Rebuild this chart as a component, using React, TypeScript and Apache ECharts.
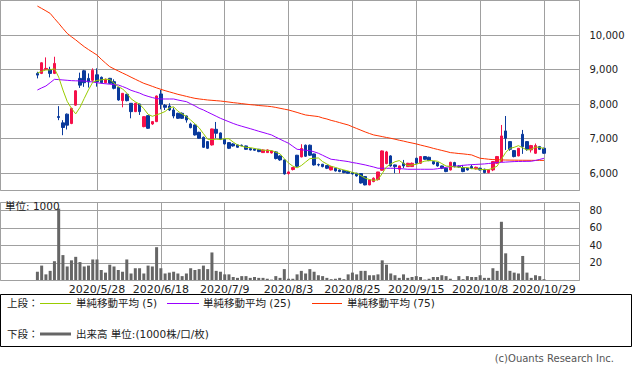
import React, { useEffect, useRef } from 'react';
import * as echarts from 'echarts';

const dates = [
  '2020/5/8','2020/5/11','2020/5/12','2020/5/13','2020/5/14','2020/5/15','2020/5/18','2020/5/19','2020/5/20','2020/5/21',
  '2020/5/22','2020/5/25','2020/5/26','2020/5/27','2020/5/28','2020/5/29','2020/6/1','2020/6/2','2020/6/3','2020/6/4',
  '2020/6/5','2020/6/8','2020/6/9','2020/6/10','2020/6/11','2020/6/12','2020/6/15','2020/6/16','2020/6/17','2020/6/18',
  '2020/6/19','2020/6/22','2020/6/23','2020/6/24','2020/6/25','2020/6/26','2020/6/29','2020/6/30','2020/7/1','2020/7/2',
  '2020/7/3','2020/7/6','2020/7/7','2020/7/8','2020/7/9','2020/7/10','2020/7/13','2020/7/14','2020/7/15','2020/7/16',
  '2020/7/17','2020/7/20','2020/7/21','2020/7/22','2020/7/27','2020/7/28','2020/7/29','2020/7/30','2020/7/31','2020/8/3',
  '2020/8/4','2020/8/5','2020/8/6','2020/8/7','2020/8/11','2020/8/12','2020/8/13','2020/8/14','2020/8/17','2020/8/18',
  '2020/8/19','2020/8/20','2020/8/21','2020/8/24','2020/8/25','2020/8/26','2020/8/27','2020/8/28','2020/8/31','2020/9/1',
  '2020/9/2','2020/9/3','2020/9/4','2020/9/7','2020/9/8','2020/9/9','2020/9/10','2020/9/11','2020/9/14','2020/9/15',
  '2020/9/16','2020/9/17','2020/9/18','2020/9/23','2020/9/24','2020/9/25','2020/9/28','2020/9/29','2020/9/30','2020/10/1',
  '2020/10/2','2020/10/5','2020/10/6','2020/10/7','2020/10/8','2020/10/9','2020/10/12','2020/10/13','2020/10/14','2020/10/15',
  '2020/10/16','2020/10/19','2020/10/20','2020/10/21','2020/10/22','2020/10/23','2020/10/26','2020/10/27','2020/10/28','2020/10/29',
];

// [open, close, low, high]
const ohlc = [
  [8890,8840,8745,8936],[8890,9197,8870,9210],[9005,9034,8990,9353],[9005,8890,8774,9081],[8890,9179,8870,9372],
  [7640,7614,7536,7942],[7458,7324,7101,7536],[7710,7391,7266,7730],[7440,7875,7420,7900],[7971,8385,7950,8400],
  [8745,8550,8470,8911],[8965,8620,8500,8990],[8745,8640,8480,8890],[8690,8980,8650,9036],[8850,8650,8506,9036],
  [8776,8621,8600,8800],[8621,8718,8600,8740],[8747,8602,8580,8760],[8650,8458,8429,8718],[8486,8120,8100,8500],
  [8101,8313,7908,8320],[8284,8101,8080,8300],[8024,7783,7590,8030],[7783,8024,7770,8040],[8004,7783,7686,8010],
  [7349,7638,7330,7650],[7667,7301,7280,7680],[7426,7494,7400,7510],[7494,8236,7480,8250],[8294,7995,7850,8409],
  [7966,7908,7830,8004],[7947,7831,7800,8024],[7831,7657,7590,7900],[7735,7590,7570,7750],[7735,7590,7570,7760],
  [7657,7542,7465,7670],[7426,7320,7300,7465],[7397,7108,7090,7410],[7185,7012,7000,7200],[7041,6751,6730,7060],
  [6915,6722,6700,6930],[6819,7282,6800,7290],[7272,7156,7010,7484],[7166,6983,6960,7180],[6983,6848,6830,7000],
  [6886,6722,6700,6900],[6848,6790,6770,6870],[6819,6751,6740,6830],[6810,6800,6780,6830],[6790,6693,6680,6800],
  [6713,6674,6660,6720],[6703,6665,6650,6720],[6693,6626,6610,6700],[6597,6674,6590,6690],[6597,6674,6590,6690],
  [6588,6646,6570,6660],[6617,6425,6400,6640],[6501,6385,6360,6520],[6385,5980,5960,6400],[5990,6037,5960,6050],
  [6107,6164,6080,6180],[6521,6202,6180,6530],[6472,6715,6460,6840],[6811,6492,6470,6830],[6811,6521,6500,6830],
  [6558,6240,6220,6570],[6250,6240,6200,6280],[6260,6192,6170,6270],[6221,6144,6120,6230],[6096,6192,6080,6200],
  [6144,6067,6050,6150],[6096,6048,6030,6110],[6076,6019,6000,6090],[6048,6000,5990,6060],[6019,5980,5960,6030],
  [6000,5922,5900,6010],[5990,5718,5700,6000],[5903,5662,5650,5920],[5662,5807,5650,5820],[5758,5855,5740,5880],
  [5816,6037,5790,6040],[6086,6646,6070,6660],[6280,6617,6260,6646],[6501,6211,6190,6520],[6240,6192,6000,6250],
  [6115,6211,6000,6220],[6288,6211,6144,6385],[6192,6288,6180,6300],[6192,6288,6180,6310],[6433,6288,6270,6450],
  [6288,6482,6270,6490],[6482,6404,6390,6490],[6462,6366,6350,6480],[6337,6269,6250,6350],[6308,6211,6190,6320],
  [6211,6144,6120,6220],[6144,6048,6030,6150],[6096,6317,6080,6330],[6308,6192,6170,6330],[6200,6180,6160,6230],
  [6163,6048,6030,6240],[6144,6096,6080,6150],[6192,6144,6120,6250],[6125,6173,6110,6190],[6144,6096,6080,6160],
  [6115,6019,6000,6130],[6019,6096,6000,6110],[6096,6337,6060,6350],[6288,6482,6280,6500],[6337,7079,6320,7397],
  [7224,7012,6674,7657],[6915,6693,6650,6930],[6655,6482,6460,6670],[6501,6722,6490,6730],[7127,6771,6560,7253],
  [6915,6693,6650,6930],[6674,6800,6600,6820],[6578,6800,6560,6860],[6771,6693,6680,6790],[6722,6578,6560,6740],
];

const ma5 = [
  8900,8950,8990,8990,9028,8783,8408,8080,7877,7718,
  7905,8164,8414,8635,8688,8702,8722,8714,8610,8504,
  8442,8319,8155,8068,8001,7866,7706,7648,7690,7733,
  7787,7893,7925,7796,7715,7642,7540,7430,7314,7147,
  6983,6975,6985,6979,6998,6998,6900,6819,6782,6751,
  6742,6717,6692,6666,6663,6657,6609,6561,6422,6295,
  6205,6156,6222,6324,6421,6434,6442,6337,6267,6202,
  6167,6129,6094,6065,6023,5994,5928,5857,5818,5793,
  5812,5993,6184,6265,6332,6366,6286,6223,6238,6257,
  6311,6350,6366,6362,6346,6279,6208,6198,6182,6176,
  6157,6167,6132,6128,6111,6106,6106,6144,6206,6403,
  6601,6721,6750,6798,6736,6672,6694,6757,6751,6713,
];

const ma25 = [
  8409,8470,8525,8620,8718,8710,8700,8690,8680,8675,
  8672,8670,8655,8640,8620,8602,8590,8578,8566,8554,
  8510,8460,8400,8360,8320,8265,8225,8190,8160,8149,
  8149,8149,8149,8120,8095,8072,8010,7950,7880,7831,
  7770,7710,7650,7590,7540,7490,7440,7397,7360,7325,
  7290,7253,7215,7180,7145,7108,7045,6985,6925,6867,
  6780,6693,6680,6665,6655,6620,6578,6520,6460,6404,
  6390,6370,6355,6337,6310,6290,6265,6240,6210,6180,
  6144,6144,6144,6144,6144,6135,6125,6115,6115,6115,
  6115,6115,6115,6115,6130,6150,6170,6192,6205,6215,
  6228,6240,6248,6255,6262,6269,6282,6295,6308,6315,
  6322,6330,6337,6340,6342,6344,6346,6370,6400,6433,
];

const ma75 = [
  10839,10770,10700,10627,10480,10340,10190,10048,9950,9860,
  9760,9663,9580,9500,9422,9300,9190,9084,9020,8960,
  8900,8843,8780,8720,8660,8602,8560,8515,8470,8429,
  8390,8355,8320,8284,8255,8225,8195,8168,8150,8135,
  8120,8110,8100,8090,8075,8060,8043,8030,8015,8000,
  7985,7975,7960,7950,7940,7927,7905,7880,7855,7831,
  7795,7760,7722,7686,7670,7655,7640,7600,7570,7530,
  7500,7465,7430,7397,7345,7295,7245,7195,7150,7108,
  7085,7060,7035,7012,6985,6955,6930,6900,6875,6848,
  6815,6785,6755,6720,6690,6660,6630,6597,6585,6570,
  6560,6545,6530,6480,6433,6420,6405,6395,6390,6385,
  6382,6380,6378,6376,6375,6374,6373,6372,6372,6372,
];

// volume, unit 1000
const volume = [
  10,17,7,11,22,82,29,16,23,27,
  21,16,17,24,24,12,9,18,16,12,
  10,24,8,14,14,8,17,16,38,14,
  8,9,10,8,5,8,14,12,13,17,
  13,32,11,10,7,7,4,3,5,5,
  3,4,3,3,2,1,5,3,13,2,
  2,7,11,8,13,10,6,5,3,1.5,
  2,3,1.5,7,9,7,11,11,6,6,
  7,23,18,8,6,3,7,3,4,5,
  4,1,2,4,4,6,5,2,0,5,
  1.5,5,4,4,6,3,3,14,11,67,
  31,11,9,8,28,9,3,6,5,1.5,
];

const labelDates = ['2020/5/28','2020/6/18','2020/7/9','2020/8/3','2020/8/25','2020/9/15','2020/10/8','2020/10/29'];

const PAD_BEFORE = 8;
const PAD_AFTER = 7;
const STEP = 4.2571;
const DATA_LEFT = 3.34;
const FONT = "'DejaVu Sans', 'Noto Sans CJK JP', sans-serif";
const GRID = '#a0a0a0';
const RED = '#f5104a';
const BLUE = '#0a3a9c';
const C_MA5 = '#99cc00';
const C_MA25 = '#9900ff';
const C_MA75 = '#ff3300';

export default function App() {
  const ref = useRef<HTMLDivElement>(null);
  useEffect(() => {
    document.body.style.margin = '0';
    const chart = echarts.init(ref.current as HTMLDivElement, null, { renderer: 'svg' });
    const categories = [
      ...Array.from({ length: PAD_BEFORE }, (_, k) => `pre${k}`),
      ...dates,
      ...Array.from({ length: PAD_AFTER }, (_, k) => `post${k}`),
    ];
    const padded = (arr: any[]) => [
      ...Array(PAD_BEFORE).fill('-'),
      ...arr,
      ...Array(PAD_AFTER).fill('-'),
    ];
    const dataWidth = (categories.length - 1) * STEP;
    const showAt = (_i: number, v: string) => labelDates.includes(v);
    const legendText = (x: number, y: number, text: string) => ({
      type: 'text', x, y, silent: true,
      style: { text, fill: '#222', font: `10.5px ${FONT}`, textVerticalAlign: 'middle' },
    });
    const legendLine = (x1: number, x2: number, y: number, color: string, w: number) => ({
      type: 'line', silent: true,
      shape: { x1, y1: y, x2, y2: y },
      style: { stroke: color, lineWidth: w },
    });
    const hiddenValueX = (gridIndex: number) => ({ type: 'value', gridIndex, show: false, min: 0, max: 1, splitLine: { show: false } });
    const yLabel = {
      margin: 10, fontSize: 10, color: '#222', fontFamily: FONT,
      showMinLabel: false, showMaxLabel: false,
      formatter: (v: number) => v.toLocaleString('en-US'),
    };

    chart.setOption({
      animation: false,
      grid: [
        { left: 0.5, top: 0.5, width: 579, height: 190 },
        { left: DATA_LEFT, top: 0.5, width: dataWidth, height: 190 },
        { left: 0.5, top: 202.5, width: 579, height: 78 },
        { left: DATA_LEFT, top: 202.5, width: dataWidth, height: 78 },
      ],
      xAxis: [
        hiddenValueX(0),
        {
          type: 'category', gridIndex: 1, data: categories, boundaryGap: false,
          axisLine: { show: false }, axisTick: { show: false }, axisLabel: { show: false },
          splitLine: { show: true, interval: showAt, lineStyle: { color: GRID, width: 1 } },
        },
        hiddenValueX(2),
        {
          type: 'category', gridIndex: 3, data: categories, boundaryGap: false,
          axisLine: { show: false }, axisTick: { show: false },
          axisLabel: { show: true, interval: showAt, fontSize: 11, color: '#222', fontFamily: FONT, margin: 3 },
          splitLine: { show: true, interval: showAt, lineStyle: { color: GRID, width: 1 } },
        },
      ],
      yAxis: [
        {
          type: 'value', gridIndex: 0, position: 'right', min: 5500, max: 11000, splitNumber: 5,
          axisLine: { show: false },
          axisTick: { show: true, length: 6, lineStyle: { color: GRID } },
          axisLabel: yLabel,
          splitLine: { show: true, lineStyle: { color: GRID, width: 1 } },
        },
        { type: 'value', gridIndex: 1, min: 5500, max: 11000, show: false },
        {
          type: 'value', gridIndex: 2, position: 'right', min: 0, max: 89, splitNumber: 5,
          axisLine: { show: false },
          axisTick: { show: true, length: 6, lineStyle: { color: GRID } },
          axisLabel: yLabel,
          splitLine: { show: true, lineStyle: { color: GRID, width: 1 } },
        },
        { type: 'value', gridIndex: 3, min: 0, max: 89, show: false },
      ],
      series: [
        {
          name: 'price', type: 'candlestick', xAxisIndex: 1, yAxisIndex: 1,
          data: padded(ohlc), barWidth: 3,
          itemStyle: { color: RED, color0: BLUE, borderColor: RED, borderColor0: BLUE, borderWidth: 1 },
        },
        {
          name: '単純移動平均 (75)', type: 'line', xAxisIndex: 1, yAxisIndex: 1, data: padded(ma75),
          showSymbol: false, symbol: 'none', lineStyle: { color: C_MA75, width: 1 },
        },
        {
          name: '単純移動平均 (25)', type: 'line', xAxisIndex: 1, yAxisIndex: 1, data: padded(ma25),
          showSymbol: false, symbol: 'none', lineStyle: { color: C_MA25, width: 1 },
        },
        {
          name: '単純移動平均 (5)', type: 'line', xAxisIndex: 1, yAxisIndex: 1, data: padded(ma5),
          showSymbol: false, symbol: 'none', lineStyle: { color: C_MA5, width: 1 },
        },
        {
          name: '出来高', type: 'bar', xAxisIndex: 3, yAxisIndex: 3, data: padded(volume),
          barWidth: 3, itemStyle: { color: '#666666' },
        },
      ],
      graphic: [
        { type: 'rect', silent: true, z: 10, shape: { x: 0.5, y: 0.5, width: 579, height: 190 }, style: { fill: 'none', stroke: GRID, lineWidth: 1 } },
        { type: 'rect', silent: true, z: 10, shape: { x: 0.5, y: 202.5, width: 579, height: 78 }, style: { fill: 'none', stroke: GRID, lineWidth: 1 } },
        { type: 'text', x: 5, y: 206, silent: true, z: 11, style: { text: '単位: 1000', fill: '#222', font: `10.5px ${FONT}`, textVerticalAlign: 'middle' } },
        { type: 'rect', silent: true, shape: { x: 0.5, y: 294.5, width: 631, height: 52 }, style: { fill: 'none', stroke: '#000', lineWidth: 1 } },
        legendText(7, 303, '上段：'),
        legendLine(40, 71, 303.5, C_MA5, 1),
        legendText(76, 303, '単純移動平均 (5)'),
        legendLine(167, 199, 303.5, C_MA25, 1),
        legendText(203, 303, '単純移動平均 (25)'),
        legendLine(312, 342, 303.5, C_MA75, 1),
        legendText(347, 303, '単純移動平均 (75)'),
        legendText(7, 334, '下段：'),
        legendLine(40, 71, 334, '#666666', 3),
        legendText(76, 334, '出来高 単位:(1000株/口/枚)'),
        { type: 'text', x: 614, y: 358, silent: true, style: { text: '(c)Ouants Research Inc.', fill: '#555', font: `10px ${FONT}`, textAlign: 'right', textVerticalAlign: 'middle' } },
      ],
    });
    return () => chart.dispose();
  }, []);
  return <div ref={ref} style={{ width: 633, height: 373 }} />;
}
